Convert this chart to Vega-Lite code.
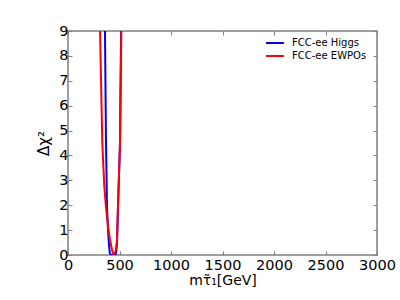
{
  "$schema": "https://vega.github.io/schema/vega-lite/v6.json",
  "autosize": "none",
  "width": 309,
  "height": 224,
  "padding": {"left": 68, "top": 31, "right": 23, "bottom": 45},
  "background": "white",
  "config": {
    "view": {"stroke": "#808080", "strokeWidth": 1.5},
    "axis": {
      "labelFont": "DejaVu Sans",
      "titleFont": "DejaVu Sans",
      "labelColor": "black",
      "titleColor": "black",
      "grid": false,
      "domain": false,
      "tickColor": "#808080",
      "tickSize": -4,
      "tickWidth": 1,
      "labelOverlap": false,
      "labelFlush": false,
      "format": "d"
    }
  },
  "data": {
    "values": [
      {"series": "FCC-ee Higgs", "m": 359, "chi2": 9},
      {"series": "FCC-ee Higgs", "m": 369, "chi2": 4.5},
      {"series": "FCC-ee Higgs", "m": 379, "chi2": 1.9},
      {"series": "FCC-ee Higgs", "m": 390, "chi2": 0.9},
      {"series": "FCC-ee Higgs", "m": 398, "chi2": 0.4},
      {"series": "FCC-ee Higgs", "m": 405, "chi2": 0.1},
      {"series": "FCC-ee Higgs", "m": 415, "chi2": 0},
      {"series": "FCC-ee Higgs", "m": 440, "chi2": 0},
      {"series": "FCC-ee Higgs", "m": 462, "chi2": 0},
      {"series": "FCC-ee Higgs", "m": 470, "chi2": 0.2},
      {"series": "FCC-ee Higgs", "m": 476, "chi2": 0.5},
      {"series": "FCC-ee Higgs", "m": 485, "chi2": 1.9},
      {"series": "FCC-ee Higgs", "m": 505, "chi2": 4.5},
      {"series": "FCC-ee Higgs", "m": 515, "chi2": 9},
      {"series": "FCC-ee EWPOs", "m": 311, "chi2": 9},
      {"series": "FCC-ee EWPOs", "m": 333, "chi2": 4.5},
      {"series": "FCC-ee EWPOs", "m": 352, "chi2": 2.8},
      {"series": "FCC-ee EWPOs", "m": 369, "chi2": 1.9},
      {"series": "FCC-ee EWPOs", "m": 390, "chi2": 1.1},
      {"series": "FCC-ee EWPOs", "m": 408, "chi2": 0.6},
      {"series": "FCC-ee EWPOs", "m": 430, "chi2": 0.15},
      {"series": "FCC-ee EWPOs", "m": 447, "chi2": 0},
      {"series": "FCC-ee EWPOs", "m": 465, "chi2": 0.2},
      {"series": "FCC-ee EWPOs", "m": 476, "chi2": 0.6},
      {"series": "FCC-ee EWPOs", "m": 485, "chi2": 1.9},
      {"series": "FCC-ee EWPOs", "m": 495, "chi2": 3.2},
      {"series": "FCC-ee EWPOs", "m": 505, "chi2": 4.5},
      {"series": "FCC-ee EWPOs", "m": 518, "chi2": 9}
    ]
  },
  "encoding": {
    "x": {"field": "m", "type": "quantitative", "scale": {"domain": [0, 3000], "nice": false, "zero": false}},
    "y": {"field": "chi2", "type": "quantitative", "scale": {"domain": [0, 9], "nice": false}},
    "color": {
      "field": "series",
      "type": "nominal",
      "scale": {"domain": ["FCC-ee Higgs", "FCC-ee EWPOs"], "range": ["#0000ff", "#ff0000"]},
      "legend": {
        "title": null,
        "orient": "none",
        "legendX": 198,
        "legendY": 5.5,
        "symbolType": "M-1.6,0H1.6",
        "symbolSize": 169,
        "symbolStrokeWidth": 2,
        "symbolFillColor": "transparent",
        "labelFont": "DejaVu Sans",
        "labelFontSize": 10,
        "labelColor": "black",
        "clipHeight": 13,
        "rowPadding": 0,
        "labelOffset": 11
      }
    }
  },
  "layer": [
    {
      "transform": [{"filter": "datum.series === 'FCC-ee Higgs'"}],
      "mark": {"type": "line", "strokeWidth": 2, "clip": true},
      "encoding": {
        "x": {"field": "m", "type": "quantitative", "axis": {"orient": "bottom", "values": [0, 500, 1000, 1500, 2000, 2500, 3000], "labelFontSize": 14.5, "labelPadding": 7, "title": "mτ̃₁[GeV]", "titleFontSize": 14, "titleFontWeight": "normal", "titlePadding": 2}},
        "y": {"field": "chi2", "type": "quantitative", "axis": {"orient": "left", "values": [0, 1, 2, 3, 4, 5, 6, 7, 8, 9], "labelFontSize": 14.5, "labelPadding": 4, "title": "Δχ²", "titleFontSize": 15, "titleFontWeight": "normal", "titleX": -17, "titleY": 112}}
      }
    },
    {
      "transform": [{"filter": "datum.series === 'FCC-ee EWPOs'"}],
      "mark": {"type": "line", "strokeWidth": 2, "clip": true},
      "encoding": {
        "x": {"field": "m", "type": "quantitative", "axis": {"orient": "top", "values": [0, 500, 1000, 1500, 2000, 2500, 3000], "labels": false, "title": null}},
        "y": {"field": "chi2", "type": "quantitative", "axis": {"orient": "right", "values": [0, 1, 2, 3, 4, 5, 6, 7, 8, 9], "labels": false, "title": null}}
      }
    }
  ]
}
